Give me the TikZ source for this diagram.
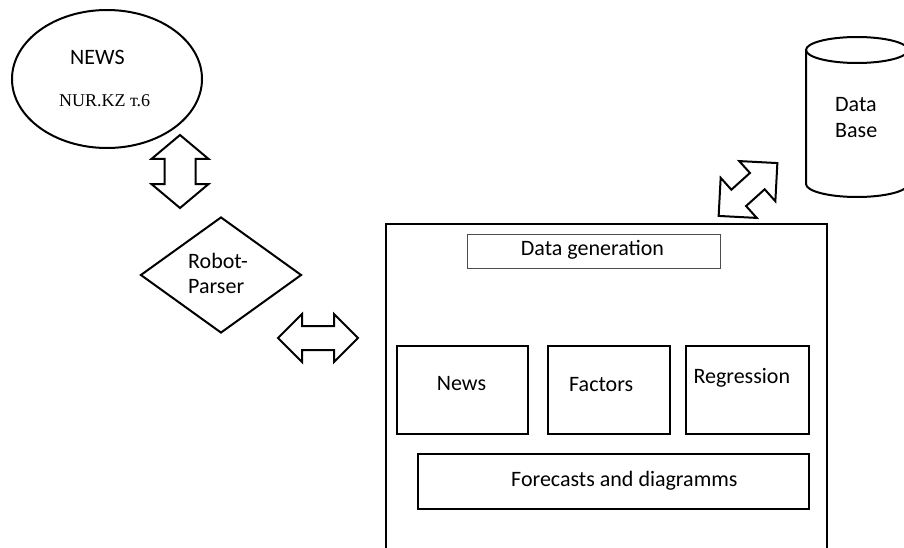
\documentclass[tikz,border=0pt]{standalone}
\usepackage{fontspec}
\setmainfont{Carlito}
\newfontfamily\serifcyr{Liberation Serif}
\usetikzlibrary{shapes.geometric,shapes.arrows}

\begin{document}
\begin{tikzpicture}[x=1pt,y=-1pt,
  outline/.style={draw=black, line width=2pt, inner sep=0pt},
  boxframe/.style={outline, rectangle, anchor=north west},
  txt/.style={inner sep=0pt, anchor=base west, font=\fontsize{22}{26}\selectfont},
  blockarrow/.style={double arrow, draw=black, line width=2pt, inner sep=0pt,
    text height=#1/2, text depth=#1/2, text width=0pt}
]
\useasboundingbox (0,0) rectangle (904,548);
\clip (0,0) rectangle (904,548);

% news source
\node[outline, ellipse, minimum width=190, minimum height=138] (src) at (107,79) {};
\node[txt] (srcname) at (70,65) {NEWS};
\node[txt, font=\serifcyr\fontsize{18}{20}\selectfont] (srcurl) at (59,107) {NUR.KZ т.6};

% parser
\node[outline, diamond, minimum width=161, minimum height=116] (parser) at (221,275) {};
\node[txt] (parser1) at (188,268) {Robot-};
\node[txt] (parser2) at (188,293) {Parser};

% application frame and its modules
\node[boxframe, minimum width=441, minimum height=360] (app) at (385,223) {};
\node[boxframe, draw=black!70, line width=1.3pt, minimum width=253, minimum height=34] (gen) at (467,234) {};
\node[txt] (gentext) at (520.7,255) {Data generation};
\node[boxframe, minimum width=131, minimum height=88] (news) at (396,345) {};
\node[txt] (newstext) at (436.7,390) {News};
\node[boxframe, minimum width=122, minimum height=88] (factors) at (547,345) {};
\node[txt] (factorstext) at (569,391.7) {Factors};
\node[boxframe, minimum width=123, minimum height=88] (regr) at (685,345) {};
\node[txt] (regrtext) at (693.3,383) {Regression};
\node[boxframe, minimum width=391, minimum height=55] (fc) at (417,453) {};
\node[txt] (fctext) at (511,486) {Forecasts and diagramms};

% database cylinder
\draw[line width=2pt] (806,50) -- (806,184)
  arc[start angle=180, end angle=0, x radius=51, y radius=13] -- (908,50);
\draw[line width=2pt] (857,50) ellipse [x radius=51, y radius=13];
\node[txt] (db1) at (835,112) {Data};
\node[txt] (db2) at (835,138) {Base};

% two-way block arrows
\node[blockarrow=29pt, minimum height=73, double arrow head extend=13,
      double arrow tip angle=100, rotate=90] (srclink) at (180,171.5) {};
\node[blockarrow=22pt, minimum height=80, double arrow head extend=12,
      double arrow tip angle=90] (applink) at (318,338) {};
\node[blockarrow=20pt, minimum height=79, double arrow head extend=16,
      double arrow tip angle=90, rotate=42] (dblink) at (748,189.5) {};
\end{tikzpicture}
\end{document}
